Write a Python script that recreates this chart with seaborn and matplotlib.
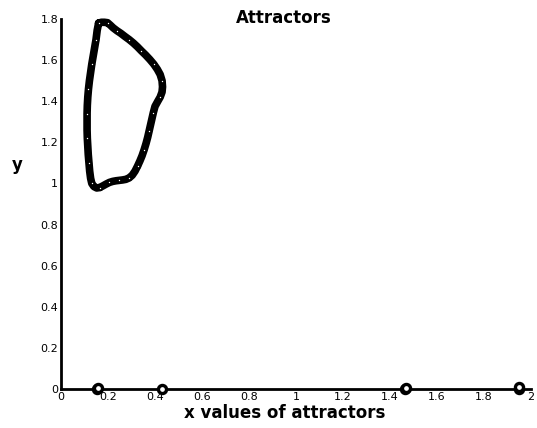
import numpy as np
import pandas as pd
import seaborn as sns
import matplotlib.pyplot as plt

# attractor loop (clockwise from the top)
loop_x = [0.160, 0.172, 0.185, 0.198, 0.210, 0.222, 0.238, 0.255, 0.272, 0.290,
          0.308, 0.325, 0.342, 0.360, 0.378, 0.395, 0.410, 0.422, 0.430, 0.432,
          0.430, 0.422, 0.412, 0.400, 0.393, 0.387, 0.381, 0.375, 0.369, 0.362,
          0.354, 0.345, 0.336, 0.326, 0.315, 0.303, 0.290, 0.276, 0.262, 0.248,
          0.234, 0.220, 0.206, 0.192, 0.178, 0.164, 0.152, 0.140, 0.131, 0.126,
          0.122, 0.119, 0.116, 0.114, 0.112, 0.111, 0.111, 0.111, 0.112, 0.114,
          0.117, 0.121, 0.126, 0.131, 0.137, 0.143, 0.149, 0.154, 0.160]
loop_y = [1.780, 1.784, 1.784, 1.782, 1.770, 1.757, 1.743, 1.730, 1.715, 1.700,
          1.683, 1.665, 1.645, 1.625, 1.603, 1.580, 1.555, 1.530, 1.500, 1.470,
          1.445, 1.420, 1.400, 1.375, 1.345, 1.315, 1.285, 1.255, 1.225, 1.195,
          1.165, 1.135, 1.110, 1.085, 1.060, 1.040, 1.027, 1.020, 1.017, 1.015,
          1.013, 1.010, 1.005, 0.997, 0.988, 0.980, 0.978, 0.985, 1.000, 1.025,
          1.060, 1.100, 1.140, 1.180, 1.220, 1.260, 1.300, 1.340, 1.380, 1.420,
          1.460, 1.500, 1.540, 1.580, 1.620, 1.660, 1.700, 1.745, 1.780]

# fixed points on the x axis
fixed_x = [0.155, 0.158, 0.430, 1.465, 1.468, 1.950, 1.948]
fixed_y = [0.0, 0.006, 0.0, 0.0, 0.006, 0.0, 0.012]

xticks = [0, 0.2, 0.4, 0.6, 0.8, 1, 1.2, 1.4, 1.6, 1.8, 2]
xlabels = ['0', '0.2', '0.4', '0.6', '0.8', '1', '1.2', '1.4', '1.6', '1.8', '2']
yticks = [0, 0.2, 0.4, 0.6, 0.8, 1, 1.2, 1.4, 1.6, 1.8]
ylabels = ['0', '0.2', '0.4', '0.6', '0.8', '1', '1.2', '1.4', '1.6', '1.8']

loop = pd.DataFrame({'x': loop_x, 'y': loop_y})
fixed = pd.DataFrame({'x': fixed_x, 'y': fixed_y})

sns.set_style('white')
plt.rcParams['text.color'] = 'black'
fig = plt.figure(figsize=(5.37, 4.28), dpi=100)
ax = fig.add_axes([0.1136, 0.0911, 0.8752, 0.8645])

# dense chain of circle markers -> thick dark band
sns.lineplot(data=loop, x='x', y='y', ax=ax, sort=False, estimator=None,
             color='black', linewidth=5.5, zorder=4, clip_on=False)
sns.scatterplot(data=loop.iloc[::3], x='x', y='y', ax=ax, marker='o', s=6,
                facecolor='white', edgecolor='black', linewidth=1.4, zorder=5,
                clip_on=False)
sns.scatterplot(data=fixed, x='x', y='y', ax=ax, marker='o', s=34,
                facecolor='white', edgecolor='black', linewidth=2.4,
                clip_on=False, zorder=6)

ax.set_xlim(0, 2)
ax.set_ylim(0, 1.8)
ax.set_xticks(xticks)
ax.set_xticklabels(xlabels)
ax.set_yticks(yticks)
ax.set_yticklabels(ylabels)
ax.tick_params(direction='in', length=4, width=1, labelsize=8,
               colors='black', pad=2)
for side in ['top', 'right']:
    ax.spines[side].set_visible(False)
for side in ['left', 'bottom']:
    ax.spines[side].set_linewidth(2)
    ax.spines[side].set_color('black')
ax.set_xlabel('')
ax.set_ylabel('')

fig.text(284 / 537, 1 - 18 / 428, 'Attractors', ha='center', va='center',
         fontsize=12, fontweight='bold', color='black')
fig.text(285 / 537, 1 - 413 / 428, 'x values of attractors', ha='center',
         va='center', fontsize=12, fontweight='bold', color='black')
fig.text(17 / 537, 1 - 165 / 428, 'y', ha='center', va='center',
         fontsize=12, fontweight='bold', color='black')

plt.savefig('out.png', dpi=100)
